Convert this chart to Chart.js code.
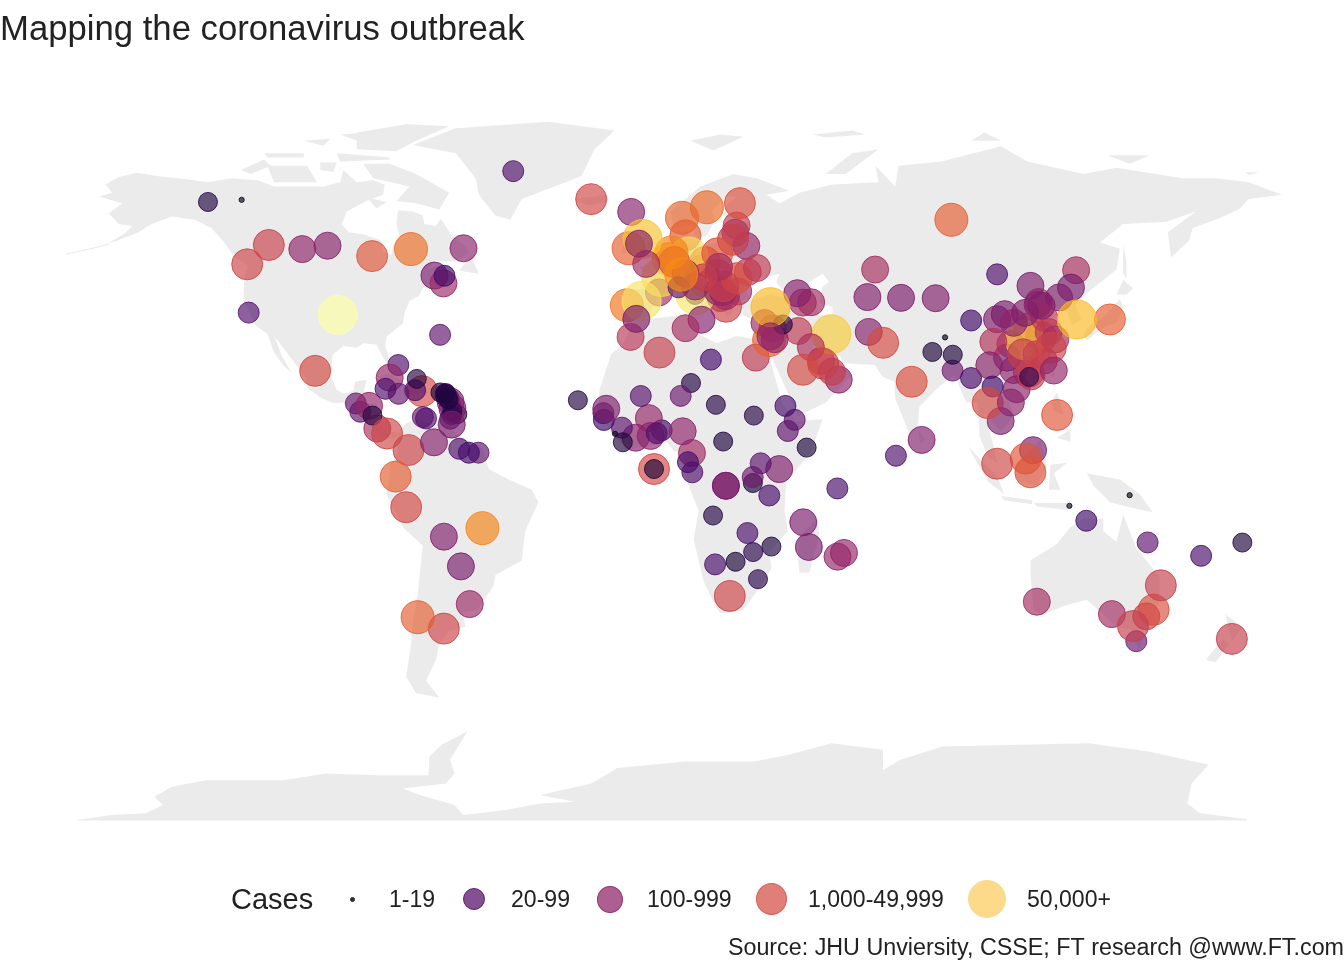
<!DOCTYPE html>
<html><head><meta charset="utf-8">
<style>
html,body{margin:0;padding:0;background:#fff;overflow:hidden}
#wrap{position:relative;width:1344px;height:960px;font-family:"Liberation Sans",Arial,sans-serif;color:#222}
canvas{position:absolute;left:0;top:0}
.lg{position:absolute;line-height:1;white-space:nowrap}
.sw{position:absolute;border-radius:50%;box-sizing:border-box;border-style:solid;border-width:1px}
</style>
<script src="https://cdn.jsdelivr.net/npm/chart.js@4"></script>
</head><body>
<div id="wrap">
<canvas id="c" width="1344" height="960"></canvas>
<div class="lg" style="left:231px;top:885px;font-size:29px">Cases</div>
<div class="sw" style="left:349.5px;top:896.5px;width:5px;height:5px;background:#333;border-color:#222"></div>
<div class="lg" style="left:389px;top:888px;font-size:23.05px">1-19</div>
<div class="sw" style="left:463px;top:888px;width:22px;height:22px;background:#84508f;border-color:#5f1f76"></div>
<div class="lg" style="left:511px;top:888px;font-size:23.05px">20-99</div>
<div class="sw" style="left:597px;top:886px;width:26px;height:27px;background:#ae5f92;border-color:#96316f"></div>
<div class="lg" style="left:647px;top:888px;font-size:23.05px">100-999</div>
<div class="sw" style="left:756px;top:883px;width:31px;height:32px;background:#e07f78;border-color:#d6605a"></div>
<div class="lg" style="left:808px;top:888px;font-size:23.05px">1,000-49,999</div>
<div class="sw" style="left:968px;top:880px;width:38px;height:38px;background:#fdd98a;border-color:#fdd98a"></div>
<div class="lg" style="left:1027px;top:888px;font-size:23.05px">50,000+</div>
</div>
<script>
const titleText = 'Mapping the coronavirus outbreak';
const sourceText = 'Source: JHU Unviersity, CSSE; FT research @www.FT.com';

// Reported locations: name, longitude, latitude, cases
const americasNames = ['Canada Yukon','Canada Northwest Territories','Canada British Columbia','Canada Alberta','Canada Saskatchewan','Canada Manitoba','Canada Ontario','Canada Quebec','Canada Newfoundland','Canada New Brunswick','Canada Prince Edward Island','Canada Nova Scotia','US','Canada Grand Princess','United Kingdom Bermuda','Mexico','Denmark Greenland','Guatemala','El Salvador','Honduras','Nicaragua','Costa Rica','Panama','Colombia','Ecuador','Venezuela','Peru','Guyana','Suriname','France French Guiana','Bolivia','Paraguay','Uruguay','Chile','Argentina','Brazil'];
const americasLon = [-135,-124.8,-123.12,-116.58,-106.45,-98.81,-85.32,-73.55,-57.66,-66.46,-63.42,-63.74,-95.71,-122.67,-64.75,-102.55,-42.6,-90.23,-88.9,-86.24,-85.21,-83.75,-80.78,-74.3,-78.18,-66.59,-75.01,-58.93,-56.03,-53.13,-63.59,-58.44,-55.77,-71.54,-63.62,-51.93];
const americasLat = [64.28,64.8,49.28,53.93,52.94,53.76,51.25,52.94,53.14,46.56,46.51,44.68,37.09,37.65,32.3,23.63,71.7,15.78,13.79,15.2,12.87,9.75,8.54,4.57,-1.83,6.42,-9.19,4.86,3.92,3.93,-16.29,-23.44,-32.52,-35.68,-38.42,-14.24];
const americasCases = [22,5,1400,1100,250,180,3500,9000,200,110,30,350,300000,45,60,1800,40,70,60,300,22,500,1500,1300,4500,170,1700,40,30,60,140,100,350,5000,1400,16000];

const caribbeanNames = ['Bahamas','Cuba','United Kingdom Cayman','Jamaica','United Kingdom Turks','Haiti','Dominican Republic','Netherlands Aruba','Netherlands Curacao','United Kingdom BVI','United Kingdom Anguilla','Netherlands Sint Maarten','France St Barthelemy','Saint Kitts','Antigua','United Kingdom Montserrat','France Guadeloupe','Dominica','France Martinique','Saint Lucia','Saint Vincent','Barbados','Grenada','Trinidad'];
const caribbeanLon = [-77.4,-80,-81.25,-77.3,-71.8,-72.29,-70.16,-69.97,-69,-64.64,-63.07,-63.07,-62.83,-62.78,-61.8,-62.19,-61.58,-61.37,-61.02,-60.97,-61.29,-59.54,-61.68,-61.22];
const caribbeanLat = [25.03,22,19.31,18.11,21.69,18.97,18.74,12.52,12.17,18.42,18.22,18.04,17.9,17.36,17.06,16.74,16.25,15.41,14.64,13.9,12.98,13.19,12.11,10.69];
const caribbeanCases = [40,300,40,70,22,40,2000,75,40,21,21,50,21,30,25,21,130,22,150,25,25,21,30,110];

const europeNames = ['Iceland','Denmark Faroe','Norway','Sweden','Finland','Denmark','Estonia','Latvia','Lithuania','Belarus','Russia','Ireland','United Kingdom','United Kingdom Isle of Man','United Kingdom Channel Islands','Netherlands','Belgium','Germany','France','Luxembourg','Switzerland','Andorra','Liechtenstein','Monaco','Italy','San Marino','Holy See','Spain','Portugal','United Kingdom Gibraltar','Malta','Austria','Czechia','Poland','Slovakia','Hungary','Slovenia','Croatia','Bosnia','Serbia','Kosovo','Montenegro','Albania','North Macedonia','Greece','Bulgaria','Romania','Moldova','Ukraine','Turkey','Cyprus'];
const europeLon = [-19.02,-6.91,8.47,16,26,9.5,25,24.6,23.88,27.95,90,-7.69,-3.44,-4.55,-2.36,5.29,4.47,10.45,2.21,6.13,8.23,1.52,9.55,7.42,12.57,12.46,12.45,-3.75,-8.22,-5.35,14.38,14.55,15.47,19.15,19.7,19.5,14.99,15.2,17.68,21.01,20.9,19.37,20.17,21.75,21.82,25.49,24.97,28.37,31.17,35.24,33.43];
const europeLat = [64.96,61.89,60.47,63,64,56.26,58.6,56.88,55.17,53.71,60,53.14,55.38,54.24,49.37,52.13,50.5,51.17,46.23,49.82,46.82,42.51,47.14,43.73,41.87,43.94,41.9,40.46,39.4,36.14,35.94,47.52,49.82,51.92,48.67,47.16,46.15,45.1,43.92,44.02,42.6,42.71,41.15,41.61,39.07,42.73,45.94,47.41,48.38,38.96,35.13];
const europeCases = [1500,170,6000,7000,2500,4000,900,550,1000,300,5000,5000,60000,200,400,16000,25000,100000,90000,2500,20000,450,110,60,130000,300,21,120000,11000,120,150,11000,3500,3000,420,500,950,1100,500,1100,130,200,300,400,1400,400,2700,800,800,50000,350];

const asiaNames = ['Syria','Lebanon','Israel','West Bank','Jordan','Iraq','Iran','Georgia','Armenia','Azerbaijan','Kuwait','Saudi Arabia','Bahrain','Qatar','United Arab Emirates','Oman','Afghanistan','Pakistan','Kazakhstan','Uzbekistan','Kyrgyzstan','Mongolia','Nepal','Bhutan','China Tibet','Maldives','Sri Lanka','India','Bangladesh','Burma','Laos','Thailand','Cambodia','Vietnam','Malaysia','Singapore','Brunei','Philippines','Indonesia','Korea South','Japan','Taiwan','China Hong Kong','China Macau'];
const asiaLon = [39,35.86,34.85,35.23,36.51,43.68,53.69,43.36,45.04,47.58,47.48,45.08,50.55,51.18,53.85,55.92,65,69.35,66.92,64.59,74.77,103.85,84.25,90.43,88.09,73.22,81,78,90.36,95.96,102.5,100.99,104.92,108,112.5,103.85,114.73,122,113.92,128,138,121,114.2,113.55];
const asiaLat = [34.8,33.85,31.05,31.95,31.24,33.22,32.43,42.32,40.07,40.14,29.31,23.89,26.03,25.35,23.42,21.51,33,30.38,48.02,41.38,41.2,46.86,28.17,27.51,31.69,3.2,7,21,23.69,21.9,19.86,15.87,11.55,16,2.5,1.28,4.53,13,-0.79,36,36,23.7,22.3,22.17];
const asiaCases = [22,500,5500,250,300,800,70000,160,500,400,500,1800,700,1400,900,250,170,2000,450,150,110,40,21,21,3,40,140,2500,85,35,30,1800,130,240,3500,1500,130,3500,3000,50000,4500,300,900,25];

const chinaNames = ['China Anhui','China Beijing','China Chongqing','China Fujian','China Gansu','China Guangdong','China Guangxi','China Guizhou','China Hainan','China Hebei','China Heilongjiang','China Henan','China Hubei','China Hunan','China Inner Mongolia','China Jiangsu','China Jiangxi','China Jilin','China Liaoning','China Ningxia','China Qinghai','China Shaanxi','China Shandong','China Shanghai','China Shanxi','China Sichuan','China Tianjin','China Xinjiang','China Yunnan','China Zhejiang'];
const chinaLon = [117.22,116.41,107.87,117.99,103.83,113.42,108.79,106.87,109.75,116.13,127.76,113.61,112.27,111.71,113.94,119.46,115.72,126.2,122.6,106.16,95.99,108.87,118.15,121.45,112.29,102.71,117.32,85.24,101.49,120.09];
const chinaLat = [31.83,40.18,30.06,26.08,36.06,23.34,23.83,26.81,19.2,39.55,47.86,33.88,30.98,27.61,44.09,32.97,27.61,43.67,41.3,37.27,35.75,35.19,36.34,31.2,37.58,30.62,39.31,41.11,24.97,29.18];
const chinaCases = [1000,580,580,350,140,1500,255,150,170,330,490,1280,68000,1020,130,640,940,100,130,100,30,255,800,450,140,560,140,140,180,1260];

const africaNames = ['Morocco','Algeria','Tunisia','Libya','Egypt','Cabo Verde','Senegal','Gambia','Guinea-Bissau','Mali','Niger','Chad','Sudan','Eritrea','Djibouti','Ethiopia','Somalia','Nigeria','Benin','Togo','Burkina Faso','Ghana',"Cote d'Ivoire",'Guinea','Sierra Leone','Liberia','Equatorial Guinea','Gabon','Cameroon','Diamond Princess','MS Zaandam','Central African Republic','Congo Brazzaville','Congo Kinshasa','Burundi','Rwanda','Uganda','Kenya','Tanzania','Madagascar','Mauritius','France Reunion','Seychelles','France Mayotte','Angola','Zambia','Zimbabwe','Mozambique','Namibia','Botswana','Eswatini','South Africa','Mauritania'];
const africaLon = [-7.09,1.66,9.54,17.23,30.8,-23.04,-14.45,-15.31,-15.18,-4,8.08,18.73,30.22,39.78,42.59,40.49,46.2,8.68,2.32,0.82,-1.56,-1.02,-5.55,-9.7,-11.78,-9.43,10.27,11.6,11.5,0,0,20.94,21.76,21.76,29.92,29.87,32.29,37.9,34.89,46.87,57.5,55.54,55.49,45.17,17.87,28.28,30,35.53,18.49,24.68,31.47,22.94,11.2];
const africaLat = [31.79,28.03,33.89,26.34,26.82,16.54,14.5,13.44,11.8,17.57,17.6,15.45,12.86,15.18,11.83,9.15,5.15,9.08,9.31,8.62,12.24,7.95,7.54,9.95,8.46,6.43,1.65,-0.8,3.85,0,0,6.61,-4.04,-4.04,-3.37,-1.94,1.37,-0.02,-6.37,-18.77,-20.2,-21.1,-4.68,-12.83,-11.2,-15.42,-20,-18.67,-22.96,-22.33,-26.52,-30.56,20.7];
const africaCases = [700,1000,450,30,800,22,130,60,30,50,75,23,23,33,60,60,21,230,35,45,300,210,190,55,6,21,33,40,400,1700,20,21,130,110,20,85,55,120,33,110,300,300,33,110,22,38,24,22,33,20,24,1400,22];

const oceaniaNames = ['Australia Northern Territory','Papua New Guinea','Timor-Leste','Fiji','France New Caledonia','France Polynesia','Australia Queensland','Australia New South Wales','Australia Capital Territory','Australia Victoria','Australia Tasmania','Australia South Australia','Australia Western Australia','New Zealand'];
const oceaniaLon = [130.85,143.96,125.73,178.07,165.6,149.4,153.4,151.21,149.01,144.96,145.97,138.6,115.86,174.89];
const oceaniaLat = [-12.46,-6.31,-8.87,-17.71,-20.9,-17.68,-28.01,-33.87,-35.47,-37.81,-41.45,-34.93,-31.95,-40.9];
const oceaniaCases = [30,6,6,21,35,60,1000,2500,950,1000,75,420,420,1000];

// Land outlines as [longitude, latitude]
const northAmerica = [[-168,65.6],[-164,66.5],[-166,68.5],[-162,70.3],[-156.5,71.3],[-150,70.5],[-141,69.7],[-135,69],[-128,70],[-120,69.5],[-115,68],[-108,68],[-100,68],[-95,69],[-94,72],[-90,69],[-85,69.5],[-81.5,68.5],[-82,66],[-87,64.5],[-93,62],[-94.5,59],[-92.5,57],[-88,56.5],[-82.5,55],[-82,52.5],[-79.5,51.5],[-79,54],[-77,56],[-78,59],[-77.5,62.3],[-73,62],[-70,61],[-69.5,59],[-66,58.5],[-64.5,60.3],[-61.5,56.5],[-57,53.5],[-56,52],[-60,50],[-66,50],[-69,48],[-65,49],[-64.5,47.5],[-61,46],[-65.5,43.7],[-67,45],[-70,43.7],[-71,41.7],[-74,40.5],[-75.5,37.5],[-76,35],[-78,33.8],[-81,31.8],[-81.3,29.5],[-80,26.5],[-81,25.2],[-82.7,28],[-84,30],[-88,30.3],[-90,29.2],[-94,29.6],[-97.3,27.5],[-97.8,22.5],[-96,19],[-94,18.2],[-91,18.8],[-90.5,21],[-87,21.5],[-88,18],[-88.8,15.9],[-84,15.8],[-83.5,12],[-83.5,10.5],[-80,9],[-77.5,8.7],[-78,7.5],[-80.5,7.3],[-83,8.3],[-85.5,10],[-87.5,13],[-91,14],[-94,16],[-97,15.8],[-101,17.2],[-105,19.5],[-105.5,22],[-109,25.8],[-112.5,29.5],[-114.7,31.7],[-112.8,27.5],[-109.7,23.2],[-112,24.8],[-115,28],[-117,32.5],[-120.5,34.5],[-122.5,37.8],[-124.3,40.5],[-124,46],[-122.8,49],[-127,51],[-130,54.5],[-134,58],[-139,60],[-146,60.8],[-152,59],[-156,57],[-163,54.8],[-165,54.4],[-160,56.8],[-158,58.5],[-162,59],[-165,61.5],[-161,64]];
const aleutians = [[-165,54],[-172,52.6],[-178,51.6],[-178,51.8],[-172,52.9],[-165,54.3]];
const baffin = [[-80,73.5],[-72,71],[-62,66.5],[-65,62.5],[-72,64],[-78,64.5],[-74,68],[-85,70],[-88,73.5]];
const southampton = [[-87,65.5],[-81,64.2],[-84,62.8]];
const victoriaIsland = [[-117,73],[-105,73],[-102,69],[-115,69]];
const banksIsland = [[-125,72],[-118,74.5],[-116,73],[-122,71]];
const princeWales = [[-101,73.8],[-96,73.8],[-97,71.5],[-101,72]];
const ellesmere = [[-90,77],[-78,76.5],[-72,79],[-62,82.5],[-75,83],[-90,81]];
const devon = [[-96,76],[-80,75],[-80,74.5],[-95,74]];
const melville = [[-118,76],[-106,76],[-106,75],[-117,75]];
const axelHeiberg = [[-95,80.5],[-87,81],[-88,78.5]];
const ringnes = [[-106,79],[-98,79.5],[-100,77.8]];
const newfoundland = [[-59,47.7],[-55.5,51.5],[-53,47]];
const cuba = [[-84.8,22],[-80,23],[-74.3,20.2],[-78,20],[-82,22]];
const hispaniola = [[-74,19.8],[-69,19.5],[-68.5,18.3],[-74,18]];
const greenland = [[-73,78],[-60,82],[-32,83.6],[-12,81.5],[-18,77],[-22,70.5],[-40,65],[-43.5,60],[-48,61],[-53,66],[-54,70],[-60,76]];
const southAmerica = [[-77.5,8.5],[-75,11],[-72,12],[-68,11],[-62,10.7],[-60,8.5],[-52,5],[-50,0],[-44,-2.5],[-37,-5],[-35,-8],[-39,-15],[-40,-22],[-48,-25.5],[-48.5,-28],[-53.5,-34],[-58,-34.5],[-57,-38],[-62,-39],[-65,-42],[-66,-46],[-69,-51],[-65,-55],[-72,-54],[-75,-50],[-73.5,-42],[-73,-37],[-71.5,-30],[-70,-18.5],[-76,-14],[-81,-6],[-80,-2],[-80,1],[-77.5,4]];
const africaLand = [[-6,35.7],[10,37.2],[11,33.5],[19,30.3],[25,32],[32,31],[34.5,28],[37,21],[39,15.5],[43,11.5],[51,12],[47.5,4],[40,-3],[39.5,-10],[40.5,-15],[35,-20],[35.5,-24],[32.5,-28],[27,-34],[20,-34.8],[18,-32],[15,-27],[12,-17],[13.5,-10],[9,-1],[9.8,4],[6,4.3],[4,6.3],[-4,5.2],[-8,4.5],[-13,8.5],[-17,14.7],[-16.5,19],[-13,27.7],[-9.5,30]];
const eurasia = [[-9,37],[-9,43],[-1.5,43.5],[-1,46],[-4.5,48.5],[1.5,50.5],[7,53.5],[8.5,57],[10.5,57.5],[10,54],[14,54],[20,54.5],[21,57],[24,59],[30,60],[23,60],[21,61],[22,63.5],[25,65.5],[22,65.8],[17.5,62],[18.5,60],[16,56.3],[13,55.5],[11,59],[6,58],[5,62],[14,68],[24,71],[31,70],[41,67],[34,66],[38,64],[44,66.5],[54,68.5],[68,69],[67,73],[73,68],[74,73],[87,74],[105,77.7],[113,74],[130,71],[140,72.5],[160,70],[170,70],[180,69],[190,66],[180,65],[177,62.5],[170,60],[163,58],[162,55],[156.5,51],[155.5,57],[164,62],[155,59.5],[142,59],[135,54.5],[141,53],[140,48],[132,43],[127.5,39.5],[129.4,36],[126.5,34.5],[125,38],[121,39],[118,39],[122.5,37],[119,35],[122,31],[120,26],[114,22.3],[108,21.6],[106,19],[109,13],[105,9],[100,13.5],[103,5],[104,1.3],[101,3],[98.5,8],[98,16],[94.5,16],[91,22.5],[86.5,20],[80.3,15],[79.8,10],[77.5,8],[73,17],[72.8,21],[69,22.3],[67,25],[57,25.5],[56.5,27],[51,28],[48,30],[50,26],[51.5,25],[56,26],[59.8,22.5],[52,16],[43.5,12.7],[39,21],[35,28],[34.5,31.5],[36,36.5],[30,36],[27,37],[26.5,40],[35,42],[41,41],[37,45],[38,47],[33,46],[31,46.5],[28,43],[29,41],[26,40.5],[23,40],[24,38],[22,36.5],[19.5,41],[13.5,45.5],[12.5,44],[18.5,40],[16,38],[12,42],[8.5,44.3],[3.5,43.3],[0,39.5],[-2,36.7],[-5.5,36]];
const caspian = [[47,45],[51,47],[53,45],[51,44],[50,40],[54,39],[54,37],[50,37],[49,40]];
const britain = [[-5.5,50],[1.5,51.5],[-2,56],[-3,58.5],[-6,57],[-3,54],[-5,52]];
const ireland = [[-10,52],[-6,52],[-6,55],[-9,54.5]];
const iceland = [[-24,65],[-14,66],[-14,64.5],[-20,63.4]];
const svalbard = [[11,79],[20,80.5],[27,80],[18,76.7]];
const franzJosef = [[48,80.5],[60,81.5],[64,80.5],[52,79.8]];
const novayaZemlya = [[52,71],[58,71],[68,77],[60,76]];
const severnaya = [[96,79],[105,79],[100,81]];
const newSiberian = [[137,75.5],[150,75.5],[144,73.5]];
const wrangel = [[179,71.5],[183,71.3],[180,70.8]];
const sakhalin = [[142,54],[143,50],[143,46],[142,47]];
const honshu = [[130,32],[131,34],[136,36.5],[140,40],[141,41],[142,39],[140.5,35.5],[136,34],[131,31]];
const hokkaido = [[140,42],[142,45.5],[145,43.5],[143,42]];
const taiwan = [[120,23],[121.5,25],[121,22]];
const luzon = [[120,16],[122,18.5],[124,13],[121,14]];
const mindanao = [[122,7.5],[126,9.5],[126,6.5]];
const sumatra = [[95,5.5],[104,-2],[106,-6],[101,-3]];
const java = [[105,-6.5],[114.5,-7.5],[114.5,-8.5],[106,-7.5]];
const borneo = [[109,1],[117,7],[119,1],[116,-4],[110,-3]];
const sulawesi = [[119.5,-5],[120,1],[125,1.5],[121,-1],[123,-5]];
const lesserSunda = [[115,-8.2],[125,-8.2],[125,-9.8],[116,-9]];
const newGuinea = [[131,-1],[141,-2.5],[147,-6],[151,-10.5],[143,-9],[138,-8],[133,-4]];
const australia = [[114,-22],[122,-18],[126,-14],[130,-12],[136,-12],[136,-15],[140,-17.5],[142,-11],[146,-19],[153,-26],[153,-32],[150,-37.5],[146,-39],[140,-38],[136,-35],[131,-31.5],[124,-33],[118,-35],[115,-34],[114,-26]];
const tasmania = [[145,-41],[148,-41],[147,-43.5]];
const nzNorth = [[173,-35],[178,-38],[175,-41.5],[174,-39]];
const nzSouth = [[172,-41],[174,-42],[170,-46.5],[167,-46]];
const madagascar = [[44,-16],[49.5,-12],[50,-16],[47,-25],[44,-25],[43.5,-21]];
const sriLanka = [[80,9.5],[82,7],[80.5,6]];
const antarctica = [[-174.6,-84.5],[-164.2,-83.3],[-153.8,-82.9],[-148.6,-80.9],[-151.2,-78.9],[-146,-76.5],[-135.6,-74.9],[-112.3,-74.9],[-99.3,-73.3],[-83.8,-73.7],[-68.2,-73.7],[-68,-69.2],[-64.3,-66.4],[-56.5,-63.2],[-61.7,-70],[-60.4,-73.3],[-63,-75.7],[-76,-76.9],[-70.8,-78.5],[-60.4,-80.9],[-57.8,-83.3],[-44.8,-82.1],[-34.5,-80.5],[-24.1,-80.1],[-34.5,-78.5],[-18.9,-75.7],[-11.1,-72],[9.6,-70.4],[30.4,-70.4],[40.8,-68.8],[53.7,-66],[69.3,-67.6],[69.3,-72.5],[74.5,-70],[87.4,-66.8],[110.8,-66.4],[131.5,-66],[149.7,-68],[167.9,-71.2],[162.7,-75.7],[161.4,-80.5],[165.3,-82.9],[179.5,-84.3],[179.5,-84.6],[-174.6,-84.6]];

const landShapes = [northAmerica,aleutians,baffin,southampton,victoriaIsland,banksIsland,princeWales,ellesmere,devon,melville,axelHeiberg,ringnes,newfoundland,cuba,hispaniola,greenland,southAmerica,africaLand,eurasia,britain,ireland,iceland,svalbard,franzJosef,novayaZemlya,severnaya,newSiberian,wrangel,sakhalin,honshu,hokkaido,taiwan,luzon,mindanao,sumatra,java,borneo,sulawesi,lesserSunda,newGuinea,australia,tasmania,nzNorth,nzSouth,madagascar,sriLanka,antarctica];

// Colour scale (inferno) and size scale
const infernoStops = [[0,4,0],[30,6,60],[66,10,104],[106,23,110],[147,38,103],[188,55,84],[221,81,58],[243,120,25],[252,165,10],[246,215,70],[252,255,164]];
const caseStops = [1,20,30,50,100,300,1000,3000,10000,30000,60000,100000,300000];
const colourStops = [0,.09,.2,.25,.33,.4,.53,.6,.68,.78,.86,.92,1];
const sizeLimits = [20,26,100,1000,5000,50000,Infinity];
const sizeRadii = [2.6,9.5,10.5,13.5,15.5,16.5,19.5];

function scaleT(v){
  for(let i=1;i<caseStops.length;i++){
    if(v<=caseStops[i]){
      const f=(Math.log(v)-Math.log(caseStops[i-1]))/(Math.log(caseStops[i])-Math.log(caseStops[i-1]));
      return colourStops[i-1]+f*(colourStops[i]-colourStops[i-1]);
    }
  }
  return 1;
}
function colour(v,a){
  const t=scaleT(v)*10, i=Math.min(9,Math.floor(t)), f=t-i;
  const c=[0,1,2].map(k=>Math.round(infernoStops[i][k]+f*(infernoStops[i+1][k]-infernoStops[i][k])));
  return `rgba(${c[0]},${c[1]},${c[2]},${a})`;
}
function radius(v){ return sizeRadii[sizeLimits.findIndex(l=>v<l)]; }

const allNames = [...americasNames,...caribbeanNames,...europeNames,...asiaNames,...chinaNames,...africaNames,...oceaniaNames];
const allLon = [...americasLon,...caribbeanLon,...europeLon,...asiaLon,...chinaLon,...africaLon,...oceaniaLon];
const allLat = [...americasLat,...caribbeanLat,...europeLat,...asiaLat,...chinaLat,...africaLat,...oceaniaLat];
const allCases = [...americasCases,...caribbeanCases,...europeCases,...asiaCases,...chinaCases,...africaCases,...oceaniaCases];
// Marks are painted in alphabetical order of place name
const points = allLon.map((x,i)=>({x,y:allLat[i],v:allCases[i],n:allNames[i]})).sort((a,b)=>a.n<b.n?-1:a.n>b.n?1:0);

const toXY = s => s.map(p=>({x:p[0],y:p[1]}));
const landDataset = (s,col,order) => ({type:'scatter',data:toXY(s),showLine:true,fill:'shape',backgroundColor:col,borderColor:col,borderWidth:0,pointRadius:0,pointHitRadius:0,tension:0,order});

// Fixed map frame: projection is linear in longitude and latitude
const pxPerLon = 3.304, pxPerLat = 4.154, lon0Px = 654, lat0Px = 469;
const titleSize = 34.7, sourceSize = 23.3, titleTop = 9.2;
const titleBlock = titleTop + titleSize*1.2, sourceBlock = sourceSize, W = 1344, H = 960;

new Chart(document.getElementById('c'),{
  data:{datasets:[
    {type:'scatter',data:points,
     backgroundColor:points.map(p=>colour(p.v,.66)),
     borderColor:points.map(p=>colour(p.v,.85)),
     borderWidth:1,pointRadius:points.map(p=>radius(p.v)),order:0},
    landDataset(caspian,'#ffffff',1),
    ...landShapes.map(s=>landDataset(s,'#ebebeb',2))
  ]},
  options:{
    responsive:false,animation:false,devicePixelRatio:1,
    layout:{padding:0,autoPadding:false},
    events:[],
    scales:{
      x:{type:'linear',display:false,min:(0-lon0Px)/pxPerLon,max:(W-lon0Px)/pxPerLon},
      y:{type:'linear',display:false,min:(lat0Px-(H-sourceBlock))/pxPerLat,max:(lat0Px-titleBlock)/pxPerLat}
    },
    plugins:{
      legend:{display:false},tooltip:{enabled:false},
      title:{display:true,text:titleText,align:'start',position:'top',color:'#222',
        font:{family:'"Liberation Sans"',size:titleSize,weight:'normal',lineHeight:1.2},padding:{top:titleTop,bottom:0}},
      subtitle:{display:true,text:sourceText,align:'end',position:'bottom',color:'#222',
        font:{family:'"Liberation Sans"',size:sourceSize,weight:'normal',lineHeight:1},padding:{top:0,bottom:0}}
    }
  }
});
</script>
</body></html>
